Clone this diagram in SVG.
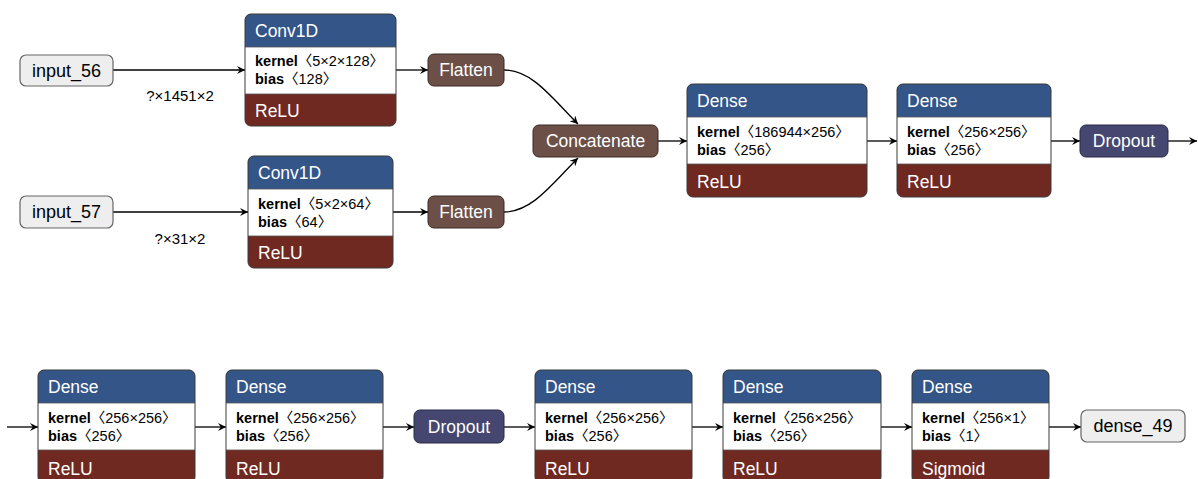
<svg xmlns="http://www.w3.org/2000/svg" width="1198" height="479" viewBox="0 0 1198 479">
<defs>
<marker id="arr" viewBox="0 0 10 10" markerWidth="9" markerHeight="8" refX="10" refY="5" orient="auto" markerUnits="userSpaceOnUse">
<path d="M0 0 L10 5 L0 10 L3.5 5 Z" fill="#000"/>
</marker>
<style>
.e{fill:none;stroke:#000;stroke-width:1.3;marker-end:url(#arr)}
.t{font-family:"Liberation Sans",Arial,sans-serif;font-size:17.5px;fill:#fff}
.tm{font-family:"Liberation Sans",Arial,sans-serif;font-size:17.5px;fill:#fff;text-anchor:middle}
.in{fill:#eeeeee;stroke:#666;stroke-width:1.2}
.it{font-family:"Liberation Sans",Arial,sans-serif;font-size:18px;fill:#000;text-anchor:middle}
.b{font-family:"Liberation Sans","Noto Sans CJK SC",sans-serif;font-size:14.5px;fill:#000}
.bb{font-weight:bold}
.lbl{font-family:"Liberation Sans",Arial,sans-serif;font-size:15px;fill:#000;text-anchor:middle}
.hd{fill:#335588}
.act{fill:#702921}
.wh{fill:#fff}
.sh{fill:#6c4f47;stroke:#3a2a26;stroke-width:1}
.dr{fill:#454770;stroke:#2a2b45;stroke-width:1}
.ol{fill:none;stroke:#3a3a3a;stroke-width:1}
.sep{stroke:#555;stroke-width:0.8}
</style>
</defs>

<g id="connectors">
<path class="e" d="M113 70 H245"/>
<path class="e" d="M113 212 H248"/>
<path class="e" d="M396 70 H428"/>
<path class="e" d="M393 212 H428"/>
<path class="e" d="M504 70 C532 70 552 98 578 124"/>
<path class="e" d="M504 212 C532 212 552 184 578 158"/>
<path class="e" d="M658 141 H687"/>
<path class="e" d="M867 141 H897"/>
<path class="e" d="M1051 141 H1080"/>
<path class="e" d="M1168 141 H1197"/>
<path class="e" d="M7 427 H38"/>
<path class="e" d="M195 427 H226"/>
<path class="e" d="M383 427 H414"/>
<path class="e" d="M504 427 H535"/>
<path class="e" d="M692 427 H723"/>
<path class="e" d="M881 427 H912"/>
<path class="e" d="M1049 427 H1081"/>
<text class="lbl" x="180" y="101">?×1451×2</text>
<text class="lbl" x="180" y="244">?×31×2</text>
</g>

<g id="input_56">
<rect class="in" x="20" y="55" width="93" height="31" rx="6"/>
<text class="it" x="66.5" y="77">input_56</text>
</g>

<g id="input_57">
<rect class="in" x="20" y="196" width="93" height="32" rx="6"/>
<text class="it" x="66.5" y="218">input_57</text>
</g>

<g id="conv1d_1">
<rect class="act" x="245" y="14" width="151" height="112" rx="6"/>
<rect class="hd" x="245" y="14" width="151" height="40" rx="6"/>
<rect class="wh" x="245" y="47" width="151" height="47"/>
<line class="sep" x1="245" y1="47" x2="396" y2="47"/>
<line class="sep" x1="245" y1="94" x2="396" y2="94"/>
<rect class="ol" x="245" y="14" width="151" height="112" rx="6"/>
<text class="t" x="255" y="37">Conv1D</text>
<text class="b" x="255" y="66"><tspan class="bb">kernel</tspan>〈5×2×128〉</text>
<text class="b" x="255" y="84"><tspan class="bb">bias</tspan>〈128〉</text>
<text class="t" x="255" y="117">ReLU</text>
</g>

<g id="conv1d_2">
<rect class="act" x="248" y="156" width="145" height="112" rx="6"/>
<rect class="hd" x="248" y="156" width="145" height="40" rx="6"/>
<rect class="wh" x="248" y="189" width="145" height="47"/>
<line class="sep" x1="248" y1="189" x2="393" y2="189"/>
<line class="sep" x1="248" y1="236" x2="393" y2="236"/>
<rect class="ol" x="248" y="156" width="145" height="112" rx="6"/>
<text class="t" x="258" y="179">Conv1D</text>
<text class="b" x="258" y="209"><tspan class="bb">kernel</tspan>〈5×2×64〉</text>
<text class="b" x="258" y="227"><tspan class="bb">bias</tspan>〈64〉</text>
<text class="t" x="258" y="259">ReLU</text>
</g>

<g id="flatten_1">
<rect class="sh" x="428" y="54" width="76" height="32" rx="6"/>
<text class="tm" x="466" y="76">Flatten</text>
</g>

<g id="flatten_2">
<rect class="sh" x="428" y="196" width="76" height="32" rx="6"/>
<text class="tm" x="466" y="218">Flatten</text>
</g>

<g id="concatenate">
<rect class="sh" x="533" y="125" width="125" height="32" rx="6"/>
<text class="tm" x="595.5" y="147">Concatenate</text>
</g>

<g id="dense_1">
<rect class="act" x="687" y="84" width="180" height="113" rx="6"/>
<rect class="hd" x="687" y="84" width="180" height="40" rx="6"/>
<rect class="wh" x="687" y="117" width="180" height="47"/>
<line class="sep" x1="687" y1="117" x2="867" y2="117"/>
<line class="sep" x1="687" y1="164" x2="867" y2="164"/>
<rect class="ol" x="687" y="84" width="180" height="113" rx="6"/>
<text class="t" x="697" y="107">Dense</text>
<text class="b" x="697" y="137"><tspan class="bb">kernel</tspan>〈186944×256〉</text>
<text class="b" x="697" y="155"><tspan class="bb">bias</tspan>〈256〉</text>
<text class="t" x="697" y="188">ReLU</text>
</g>

<g id="dense_2">
<rect class="act" x="897" y="84" width="154" height="113" rx="6"/>
<rect class="hd" x="897" y="84" width="154" height="40" rx="6"/>
<rect class="wh" x="897" y="117" width="154" height="47"/>
<line class="sep" x1="897" y1="117" x2="1051" y2="117"/>
<line class="sep" x1="897" y1="164" x2="1051" y2="164"/>
<rect class="ol" x="897" y="84" width="154" height="113" rx="6"/>
<text class="t" x="907" y="107">Dense</text>
<text class="b" x="907" y="137"><tspan class="bb">kernel</tspan>〈256×256〉</text>
<text class="b" x="907" y="155"><tspan class="bb">bias</tspan>〈256〉</text>
<text class="t" x="907" y="188">ReLU</text>
</g>

<g id="dropout_1">
<rect class="dr" x="1080" y="125" width="88" height="32" rx="6"/>
<text class="tm" x="1124" y="147">Dropout</text>
</g>

<g id="dense_3">
<rect class="act" x="38" y="370" width="157" height="113" rx="6"/>
<rect class="hd" x="38" y="370" width="157" height="40" rx="6"/>
<rect class="wh" x="38" y="403" width="157" height="47"/>
<line class="sep" x1="38" y1="403" x2="195" y2="403"/>
<line class="sep" x1="38" y1="450" x2="195" y2="450"/>
<rect class="ol" x="38" y="370" width="157" height="113" rx="6"/>
<text class="t" x="48" y="393">Dense</text>
<text class="b" x="48" y="423"><tspan class="bb">kernel</tspan>〈256×256〉</text>
<text class="b" x="48" y="441"><tspan class="bb">bias</tspan>〈256〉</text>
<text class="t" x="48" y="475">ReLU</text>
</g>

<g id="dense_4">
<rect class="act" x="226" y="370" width="157" height="113" rx="6"/>
<rect class="hd" x="226" y="370" width="157" height="40" rx="6"/>
<rect class="wh" x="226" y="403" width="157" height="47"/>
<line class="sep" x1="226" y1="403" x2="383" y2="403"/>
<line class="sep" x1="226" y1="450" x2="383" y2="450"/>
<rect class="ol" x="226" y="370" width="157" height="113" rx="6"/>
<text class="t" x="236" y="393">Dense</text>
<text class="b" x="236" y="423"><tspan class="bb">kernel</tspan>〈256×256〉</text>
<text class="b" x="236" y="441"><tspan class="bb">bias</tspan>〈256〉</text>
<text class="t" x="236" y="475">ReLU</text>
</g>

<g id="dropout_2">
<rect class="dr" x="414" y="410" width="90" height="33" rx="6"/>
<text class="tm" x="459" y="433">Dropout</text>
</g>

<g id="dense_5">
<rect class="act" x="535" y="370" width="157" height="113" rx="6"/>
<rect class="hd" x="535" y="370" width="157" height="40" rx="6"/>
<rect class="wh" x="535" y="403" width="157" height="47"/>
<line class="sep" x1="535" y1="403" x2="692" y2="403"/>
<line class="sep" x1="535" y1="450" x2="692" y2="450"/>
<rect class="ol" x="535" y="370" width="157" height="113" rx="6"/>
<text class="t" x="545" y="393">Dense</text>
<text class="b" x="545" y="423"><tspan class="bb">kernel</tspan>〈256×256〉</text>
<text class="b" x="545" y="441"><tspan class="bb">bias</tspan>〈256〉</text>
<text class="t" x="545" y="475">ReLU</text>
</g>

<g id="dense_6">
<rect class="act" x="723" y="370" width="158" height="113" rx="6"/>
<rect class="hd" x="723" y="370" width="158" height="40" rx="6"/>
<rect class="wh" x="723" y="403" width="158" height="47"/>
<line class="sep" x1="723" y1="403" x2="881" y2="403"/>
<line class="sep" x1="723" y1="450" x2="881" y2="450"/>
<rect class="ol" x="723" y="370" width="158" height="113" rx="6"/>
<text class="t" x="733" y="393">Dense</text>
<text class="b" x="733" y="423"><tspan class="bb">kernel</tspan>〈256×256〉</text>
<text class="b" x="733" y="441"><tspan class="bb">bias</tspan>〈256〉</text>
<text class="t" x="733" y="475">ReLU</text>
</g>

<g id="dense_7">
<rect class="act" x="912" y="370" width="137" height="113" rx="6"/>
<rect class="hd" x="912" y="370" width="137" height="40" rx="6"/>
<rect class="wh" x="912" y="403" width="137" height="47"/>
<line class="sep" x1="912" y1="403" x2="1049" y2="403"/>
<line class="sep" x1="912" y1="450" x2="1049" y2="450"/>
<rect class="ol" x="912" y="370" width="137" height="113" rx="6"/>
<text class="t" x="922" y="393">Dense</text>
<text class="b" x="922" y="423"><tspan class="bb">kernel</tspan>〈256×1〉</text>
<text class="b" x="922" y="441"><tspan class="bb">bias</tspan>〈1〉</text>
<text class="t" x="922" y="475">Sigmoid</text>
</g>

<g id="dense_49">
<rect class="in" x="1081" y="410" width="104" height="32" rx="6"/>
<text class="it" x="1133" y="432">dense_49</text>
</g>
</svg>
